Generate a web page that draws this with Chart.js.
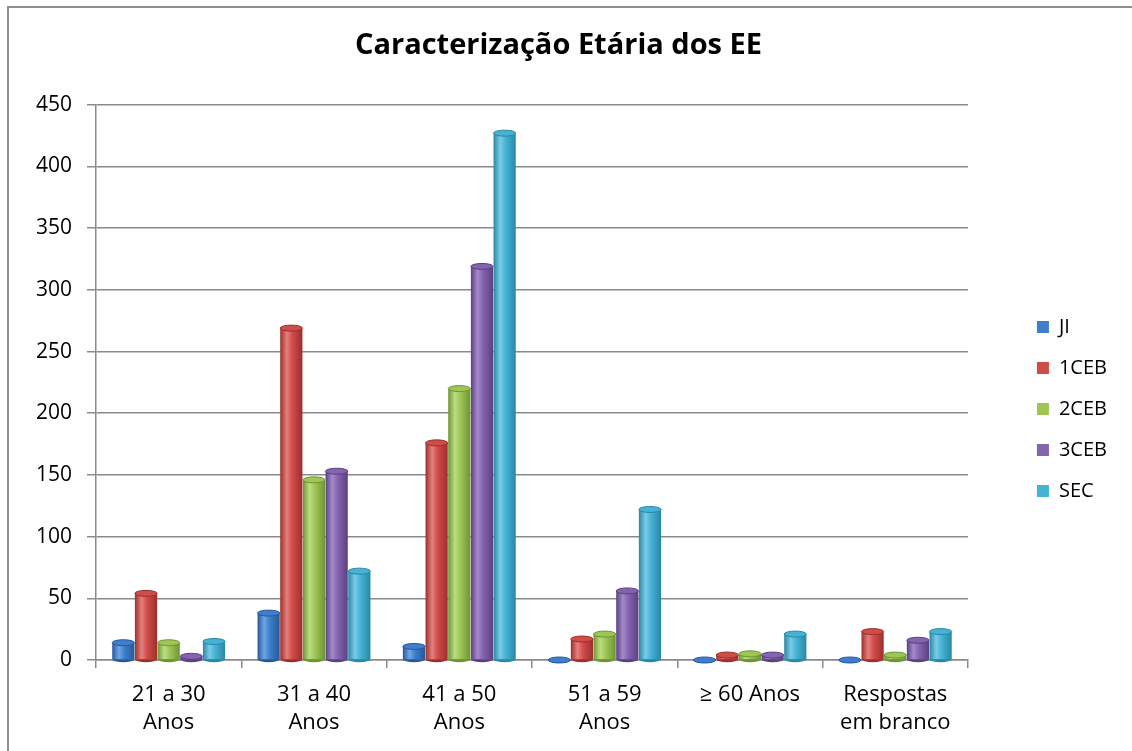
<!DOCTYPE html>
<html>
<head>
<meta charset="utf-8">
<script src="https://cdn.jsdelivr.net/npm/chart.js@4/dist/chart.umd.min.js"></script>
<style>
  html, body { margin: 0; padding: 0; background: #fff; overflow: hidden; }
  #frame { position: absolute; left: 7px; top: 6px; width: 1200px; height: 800px; border: 2px solid #8e8e8e; }
  #wrap { position: absolute; left: 0; top: 0; width: 1132px; height: 751px; }
</style>
</head>
<body>
<div id="frame"></div>
<div id="wrap"><canvas id="myChart" width="1132" height="751"></canvas></div>
<script>
var labels = [['21 a 30', 'Anos'], ['31 a 40', 'Anos'], ['41 a 50', 'Anos'], ['51 a 59', 'Anos'], '\u2265 60 Anos', ['Respostas', 'em branco']]
var seriesNames = ['JI', '1CEB', '2CEB', '3CEB', 'SEC']
var ji = [14, 38, 11, 0, 0, 0]
var ceb1 = [54, 269, 176, 17, 4, 23]
var ceb2 = [14, 146, 220, 21, 5, 4]
var ceb3 = [3, 153, 319, 56, 4, 16]
var sec = [15, 72, 427, 122, 21, 23]
var yTicks = [0, 50, 100, 150, 200, 250, 300, 350, 400, 450]

var colors = ['#3d7fcc', '#d04c49', '#9dc655', '#8463af', '#45b3d4']
var darks = ['#27589a', '#9c2f2c', '#6e9433', '#5a417f', '#2a87a5']
var lights = ['#6fa6e4', '#e4807d', '#bcdd84', '#a48acb', '#7acbe6']

var gridGray = '#8a8a8a'
var font = "'Open Sans', sans-serif"

// fake cylinder shading: gradient across each bar plus an elliptic cap
var cylinder = {
    id: 'cylinder',
    beforeDatasetsDraw: function(chart){
        var ctx = chart.ctx
        chart.data.datasets.forEach(function(ds, i){
            chart.getDatasetMeta(i).data.forEach(function(bar){
                var x0 = bar.x - bar.width / 2
                var g = ctx.createLinearGradient(x0, 0, x0 + bar.width, 0)
                g.addColorStop(0, darks[i])
                g.addColorStop(0.3, lights[i])
                g.addColorStop(0.55, colors[i])
                g.addColorStop(1, darks[i])
                bar.options.backgroundColor = g
            })
        })
    },
    afterDatasetsDraw: function(chart){
        var ctx = chart.ctx
        chart.data.datasets.forEach(function(ds, i){
            chart.getDatasetMeta(i).data.forEach(function(bar){
                var rx = bar.width / 2
                ctx.save()
                ctx.beginPath()
                ctx.ellipse(bar.x, bar.base, rx, 3, 0, 0, Math.PI)
                ctx.fillStyle = darks[i]
                ctx.fill()
                ctx.beginPath()
                ctx.ellipse(bar.x, bar.y, rx, 3, 0, 0, Math.PI * 2)
                ctx.fillStyle = colors[i]
                ctx.fill()
                ctx.lineWidth = 1
                ctx.strokeStyle = darks[i]
                ctx.stroke()
                ctx.restore()
            })
        })
    }
}

var allData = [ji, ceb1, ceb2, ceb3, sec]
var datasets = seriesNames.map(function(name, i){
    return {
        label: name,
        data: allData[i],
        // scriptable so every bar gets its own options object
        backgroundColor: function(c){ return colors[c.datasetIndex] },
        borderColor: darks[i],
        borderWidth: 0,
        categoryPercentage: 0.78,
        barPercentage: 0.98
    }
})

var myChart = document.getElementById('myChart').getContext('2d')
var chart = new Chart(myChart, {
    type: 'bar',
    data: { labels: labels, datasets: datasets },
    plugins: [cylinder],
    options: {
        responsive: false,
        animation: false,
        layout: { padding: { top: 8, left: 0, right: 15, bottom: 0 } },
        plugins: {
            title: {
                display: true,
                text: 'Caracteriza\u00e7\u00e3o Et\u00e1ria dos EE',
                color: '#000',
                font: { family: font, size: 29, weight: 'bold', lineHeight: 1.2 },
                padding: { top: 20, bottom: 42 }
            },
            legend: {
                position: 'right',
                title: { display: true, text: ' ', font: { size: 10 }, padding: { top: 24, bottom: 23 } },
                labels: {
                    color: '#000',
                    font: { family: font, size: 20 },
                    boxWidth: 12,
                    boxHeight: 12,
                    padding: 21
                }
            },
            tooltip: { enabled: false }
        },
        scales: {
            x: {
                grid: { display: true, drawOnChartArea: false, drawTicks: true, tickLength: 8, color: gridGray, lineWidth: 1.5, offset: true },
                border: { display: true, color: gridGray, width: 1.5 },
                ticks: { color: '#000', font: { family: font, size: 22, lineHeight: 1.25 }, padding: 13, maxRotation: 0, autoSkip: false },
                afterFit: function(s){ s.height = 91 }
            },
            y: {
                min: 0,
                max: 450,
                afterBuildTicks: function(s){ s.ticks = yTicks.map(function(v){ return { value: v } }) },
                grid: { color: gridGray, lineWidth: 1.5, drawTicks: true, tickLength: 9 },
                border: { display: true, color: gridGray, width: 1.5 },
                ticks: { color: '#000', font: { family: font, size: 21 }, padding: 15 },
                afterFit: function(s){ s.width = 96 }
            },
            spacer: {
                position: 'right',
                display: true,
                grid: { display: false, drawOnChartArea: false },
                border: { display: false },
                ticks: { display: false },
                afterFit: function(s){ s.width = 48 }
            }
        }
    }
})
</script>
</body>
</html>
